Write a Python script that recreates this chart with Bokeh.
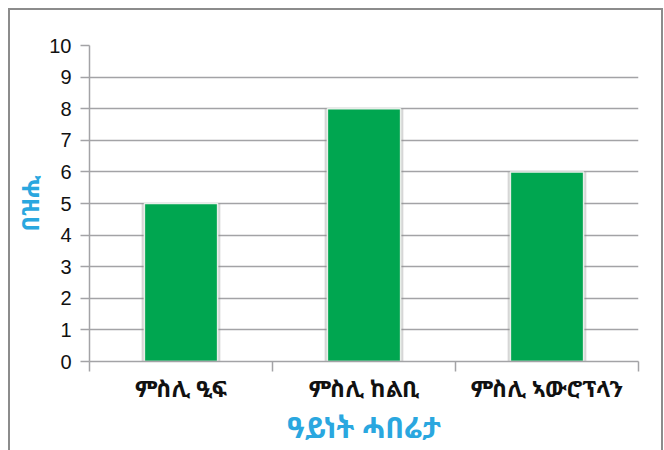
from bokeh.plotting import figure
from bokeh.models import Range1d, FixedTicker
from bokeh.embed import file_html
from bokeh.resources import INLINE

categories = ["ምስሊ ዒፍ", "ምስሊ ከልቢ", "ምስሊ ኣውሮፕላን"]
values = [5, 8, 6]
y_ticks = [0, 1, 2, 3, 4, 5, 6, 7, 8, 9, 10]
x_title = "ዓይነት ሓበሬታ"
y_title = "በዝሒ"

xs = [i + 0.5 for i in range(len(categories))]
bounds = list(range(len(categories) + 1))

p = figure(width=651, height=440, output_backend="svg", toolbar_location=None,
           x_range=Range1d(0, len(categories)), y_range=Range1d(0, 10),
           min_border_left=79, min_border_right=23, min_border_top=35, min_border_bottom=89)
p.styles = {"margin-left": "10px", "margin-top": "10px",
            "outline": "2px solid #8c8c8c"}
p.outline_line_color = None
p.background_fill_color = "white"

GRAY = "#a3a3a6"
ENG = "Noto Sans Ethiopic, Abyssinica SIL, DejaVu Sans, sans-serif"

p.vbar(x=xs, top=values, width=0.43, bottom=0, fill_color="#8a8a8a",
       fill_alpha=0.35, line_color=None)
p.vbar(x=xs, top=values, width=0.4, bottom=0, fill_color="#00a650",
       line_color="#e8efe9", line_width=1.5)

# y axis
yax = p.yaxis[0]
yax.ticker = FixedTicker(ticks=y_ticks)
yax.axis_line_color = GRAY
yax.axis_line_width = 1.5
yax.major_tick_line_color = GRAY
yax.major_tick_line_width = 1.5
yax.major_tick_out = 9
yax.major_tick_in = 0
yax.minor_tick_line_color = None
yax.major_label_text_font = "Liberation Sans"
yax.major_label_text_font_size = "20px"
yax.major_label_text_color = "#111111"
yax.major_label_standoff = 9
yax.axis_label = y_title
yax.axis_label_text_font = ENG
yax.axis_label_text_font_style = "bold"
yax.axis_label_text_font_size = "24px"
yax.axis_label_text_color = "#2aa7df"
yax.axis_label_standoff = 0

# x axis
xax = p.xaxis[0]
xax.ticker = FixedTicker(ticks=xs, minor_ticks=bounds)
xax.major_label_overrides = {x: c for x, c in zip(xs, categories)}
xax.axis_line_color = GRAY
xax.axis_line_width = 1.5
xax.major_tick_line_color = None
xax.minor_tick_line_color = GRAY
xax.minor_tick_line_width = 1.5
xax.minor_tick_out = 10
xax.minor_tick_in = 0
xax.major_label_text_font = ENG
xax.major_label_text_font_style = "bold"
xax.major_label_text_font_size = "23px"
xax.major_label_text_color = "#111111"
xax.major_label_standoff = 0
xax.axis_label = x_title
xax.axis_label_text_font = ENG
xax.axis_label_text_font_style = "bold"
xax.axis_label_text_font_size = "29px"
xax.axis_label_text_color = "#2aa7df"
xax.axis_label_standoff = 0

p.xgrid.grid_line_color = None
p.ygrid.ticker = FixedTicker(ticks=y_ticks)
p.ygrid.grid_line_color = GRAY
p.ygrid.grid_line_width = 1.5

open("out.html", "w").write(file_html(p, INLINE))
